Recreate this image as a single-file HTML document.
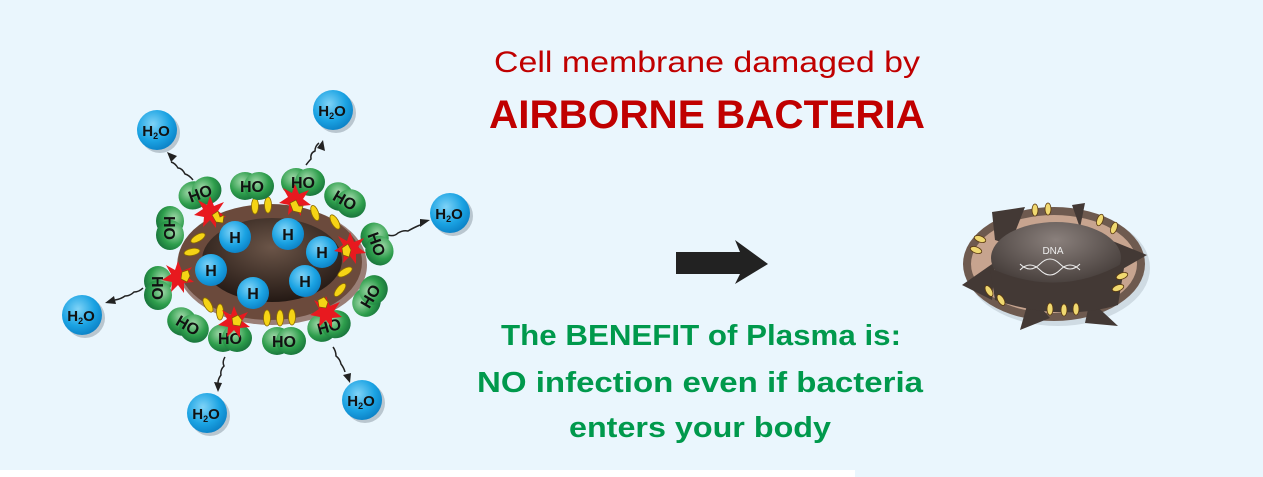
<!DOCTYPE html>
<html><head><style>
html,body{margin:0;padding:0;background:#fff;}
svg{display:block}
</style></head><body>
<svg width="1263" height="477" viewBox="0 0 1263 477" xmlns="http://www.w3.org/2000/svg" font-family="Liberation Sans, sans-serif">
<defs>
<radialGradient id="blue" cx="0.4" cy="0.35" r="0.7"><stop offset="0" stop-color="#7fd3f7"/><stop offset="0.6" stop-color="#1ba3e3"/><stop offset="1" stop-color="#0a7fc4"/></radialGradient>
<radialGradient id="green" cx="0.4" cy="0.35" r="0.7"><stop offset="0" stop-color="#9fd8a8"/><stop offset="0.6" stop-color="#2e9e4c"/><stop offset="1" stop-color="#17713a"/></radialGradient>
<radialGradient id="core" cx="0.5" cy="0.35" r="0.7"><stop offset="0" stop-color="#6b5548"/><stop offset="1" stop-color="#1e1410"/></radialGradient>
<radialGradient id="core2" cx="0.5" cy="0.25" r="0.75"><stop offset="0" stop-color="#8a807c"/><stop offset="1" stop-color="#3a322f"/></radialGradient>
<g id="h2o"><circle r="20" fill="#b9c6cf" cx="3" cy="3"/><circle r="20" fill="url(#blue)"/><text x="-1" y="6" text-anchor="middle" font-size="15" font-weight="bold" fill="#111">H<tspan font-size="9" dy="3">2</tspan><tspan dy="-3">O</tspan></text></g>
<g id="ho"><ellipse cx="-7" cy="0" rx="15" ry="14" fill="url(#green)"/><ellipse cx="7" cy="0" rx="15" ry="14" fill="url(#green)"/><text y="6" text-anchor="middle" font-size="16" font-weight="bold" fill="#111">HO</text></g>
<g id="hh"><circle r="16" fill="url(#blue)"/><text y="6" text-anchor="middle" font-size="16" font-weight="bold" fill="#111">H</text></g>
<ellipse id="y" rx="3.5" ry="8" fill="#f5d315" stroke="#8a6a00" stroke-width="0.8"/>
<path id="star" d="M0,-16 L4,-6 L14,-10 L8,-1 L16,5 L6,6 L6,16 L0,8 L-7,15 L-6,5 L-16,3 L-7,-3 L-12,-12 L-3,-7Z" fill="#e8191f"/>
</defs>
<rect width="1263" height="477" fill="#eaf6fd"/>
<rect x="0" y="470" width="855" height="7" fill="#ffffff"/>

<g stroke="#222" stroke-width="1.5" fill="none">
<path d="M193,180 q-4,-5 -8,-6 q-3,-6 -7,-6 q-3,-5 -7,-6"/>
<path d="M306,165 q3,-4 5,-6 q-1,-6 4,-8 q0,-5 4,-8"/>
<path d="M388,235 q6,2 10,-2 q5,-3 10,-2 q5,-3 12,-6"/>
<path d="M143,288 q-4,4 -9,4 q-4,4 -9,4 q-4,3 -10,4"/>
<path d="M225,357 q-3,5 -1,9 q-4,4 -3,9 q-3,4 -3,8"/>
<path d="M333,347 q3,4 3,9 q4,3 5,8 q3,4 4,8"/>
</g>
<g fill="#222">
<path d="M167,152 l10,4 l-6,6z"/>
<path d="M323,140 l2,11 l-8,-3z"/>
<path d="M430,220 l-10,7 l0,-8z"/>
<path d="M105,303 l9,-7 l2,8z"/>
<path d="M218,392 l-4,-10 l8,1z"/>
<path d="M350,383 l-7,-8 l8,-2z"/>
</g>

<ellipse cx="272" cy="265" rx="95" ry="60" fill="#9a7f77"/>
<ellipse cx="270" cy="262" rx="92" ry="58" fill="#6b4a3c"/>
<ellipse cx="272" cy="260" rx="70" ry="42" fill="url(#core)"/>
<g>
<use href="#y" x="255" y="206"/><use href="#y" x="268" y="205"/><use href="#y" x="315" y="213" transform="rotate(-20 315 213)"/><use href="#y" x="335" y="222" transform="rotate(-30 335 222)"/>
<use href="#y" x="198" y="238" transform="rotate(60 198 238)"/><use href="#y" x="192" y="252" transform="rotate(80 192 252)"/>
<use href="#y" x="345" y="272" transform="rotate(60 345 272)"/><use href="#y" x="340" y="290" transform="rotate(40 340 290)"/>
<use href="#y" x="208" y="305" transform="rotate(-30 208 305)"/><use href="#y" x="220" y="312"/><use href="#y" x="267" y="318"/><use href="#y" x="280" y="318"/><use href="#y" x="292" y="317"/>
</g>
<use href="#hh" x="235" y="237"/><use href="#hh" x="288" y="234"/><use href="#hh" x="322" y="252"/><use href="#hh" x="211" y="270"/><use href="#hh" x="253" y="293"/><use href="#hh" x="305" y="281"/>
<use href="#ho" x="200" y="193" transform="rotate(-20 200 193)"/>
<use href="#ho" x="252" y="186"/>
<use href="#ho" x="303" y="182"/>
<use href="#ho" x="345" y="200" transform="rotate(30 345 200)"/>
<use href="#ho" x="170" y="228" transform="rotate(90 170 228)"/>
<use href="#ho" x="377" y="244" transform="rotate(70 377 244)"/>
<use href="#ho" x="158" y="288" transform="rotate(90 158 288)"/>
<use href="#ho" x="370" y="296" transform="rotate(-60 370 296)"/>
<use href="#ho" x="188" y="325" transform="rotate(30 188 325)"/>
<use href="#ho" x="230" y="338"/>
<use href="#ho" x="284" y="341"/>
<use href="#ho" x="329" y="326" transform="rotate(-15 329 326)"/>
<use href="#star" x="210" y="212"/><use href="#star" x="295" y="200"/><use href="#star" x="350" y="248"/><use href="#star" x="178" y="277"/><use href="#star" x="234" y="322"/><use href="#star" x="326" y="312"/>
<g fill="#f5d315" stroke="#7a5a00" stroke-width="0.7">
<path d="M212,215 l6,-4 l2,6 l4,-2 l-1,8 l-7,-1z"/><path d="M290,203 l6,-3 l3,6 l4,0 l-2,7 l-8,-2z"/><path d="M342,248 l6,-4 l3,6 l-2,7 l-6,-2z"/><path d="M182,272 l6,-2 l2,6 l-3,6 l-6,-3z"/><path d="M232,318 l6,-3 l4,5 l-2,6 l-7,-1z"/><path d="M318,300 l6,-3 l4,5 l-2,6 l-7,-1z"/>
</g>
<use href="#h2o" x="157" y="130"/><use href="#h2o" x="333" y="110"/><use href="#h2o" x="450" y="213"/><use href="#h2o" x="82" y="315"/><use href="#h2o" x="207" y="413"/><use href="#h2o" x="362" y="400"/>

<path d="M676,252 L740,252 L735,240 L768,264 L735,284 L740,274 L676,274 Z" fill="#222"/>

<!-- right cell -->
<ellipse cx="1058" cy="268" rx="92" ry="58" fill="#cfdbe3"/>
<ellipse cx="1054" cy="264" rx="91" ry="57" fill="#6e5a4f"/>
<ellipse cx="1054" cy="264" rx="83" ry="49" fill="#c7a48f"/>
<g fill="#433935">
<path d="M992,212 L1025,207 L1010,245 L995,240z"/><path d="M1072,205 L1085,203 L1080,228z"/><path d="M1110,240 L1147,255 L1112,275z"/><path d="M962,285 L995,262 L992,300z"/><path d="M1020,330 L1030,295 L1050,318z"/><path d="M1090,300 L1118,326 L1085,323z"/>
</g>
<ellipse cx="1056" cy="258" rx="65" ry="36" fill="url(#core2)"/>
<path d="M990,268 Q1060,300 1125,262 L1118,305 Q1060,322 995,300z" fill="#433935"/>
<text x="1053" y="254" text-anchor="middle" font-size="10" fill="#eee">DNA</text>
<g stroke="#eee" stroke-width="1" fill="none"><path d="M1020,270 q10,-10 20,0 q10,10 20,0 q10,-10 20,0"/><path d="M1020,264 q10,10 20,0 q10,-10 20,0 q10,10 20,0"/></g>
<g fill="#f0d870" stroke="#5a3a10" stroke-width="0.8">
<ellipse cx="1035" cy="210" rx="3" ry="6"/><ellipse cx="1048" cy="209" rx="3" ry="6"/><ellipse cx="1100" cy="220" rx="3" ry="6" transform="rotate(20 1100 220)"/><ellipse cx="1114" cy="228" rx="3" ry="6" transform="rotate(20 1114 228)"/>
<ellipse cx="980" cy="239" rx="6" ry="3" transform="rotate(20 980 239)"/><ellipse cx="976" cy="250" rx="6" ry="3" transform="rotate(20 976 250)"/>
<ellipse cx="1122" cy="276" rx="6" ry="3" transform="rotate(-20 1122 276)"/><ellipse cx="1118" cy="288" rx="6" ry="3" transform="rotate(-20 1118 288)"/>
<ellipse cx="989" cy="291" rx="3" ry="6" transform="rotate(-30 989 291)"/><ellipse cx="1001" cy="300" rx="3" ry="6" transform="rotate(-30 1001 300)"/>
<ellipse cx="1050" cy="309" rx="3" ry="6"/><ellipse cx="1064" cy="310" rx="3" ry="6"/><ellipse cx="1076" cy="309" rx="3" ry="6"/>
</g>

<text x="707" y="72" text-anchor="middle" font-size="30" fill="#c00000" textLength="426" lengthAdjust="spacingAndGlyphs">Cell membrane damaged by</text>
<text x="707" y="128" text-anchor="middle" font-size="40" font-weight="bold" fill="#c00000" textLength="436" lengthAdjust="spacingAndGlyphs">AIRBORNE BACTERIA</text>
<text x="701" y="345" text-anchor="middle" font-size="29" font-weight="bold" fill="#00994c" textLength="400" lengthAdjust="spacingAndGlyphs">The BENEFIT of Plasma is:</text>
<text x="700" y="392" text-anchor="middle" font-size="29" font-weight="bold" fill="#00994c" textLength="446" lengthAdjust="spacingAndGlyphs">NO infection even if bacteria</text>
<text x="700" y="437" text-anchor="middle" font-size="29" font-weight="bold" fill="#00994c" textLength="262" lengthAdjust="spacingAndGlyphs">enters your body</text>
</svg>
</body></html>
